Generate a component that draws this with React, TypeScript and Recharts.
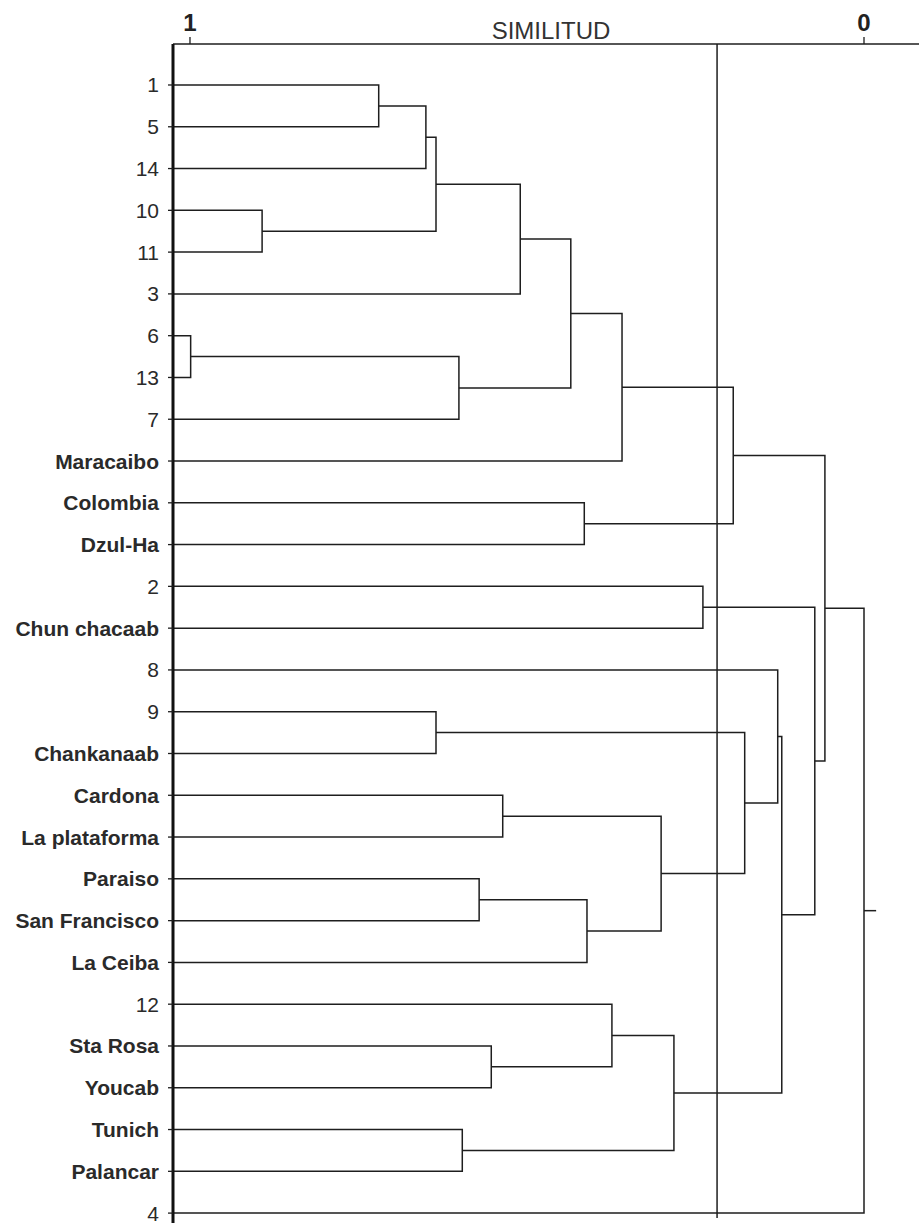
import React from 'react';
import { ComposedChart, Line, XAxis, YAxis } from 'recharts';

// Leaves, top to bottom
const leafLabels = [
  '1', '5', '14', '10', '11', '3', '6', '13', '7', 'Maracaibo', 'Colombia', 'Dzul-Ha',
  '2', 'Chun chacaab', '8', '9', 'Chankanaab', 'Cardona', 'La plataforma', 'Paraiso',
  'San Francisco', 'La Ceiba', '12', 'Sta Rosa', 'Youcab', 'Tunich', 'Palancar', '4',
];

// Merges (children < 28 are leaves; >= 28 refer to earlier merges: 28 + merge index)
const mergeLeft = [0, 28, 3, 29, 31, 6, 33, 32, 35, 10, 36, 12, 15, 17, 19, 42, 41, 40, 14, 23, 22, 25, 48, 46, 39, 38, 53];
const mergeRight = [1, 2, 4, 30, 5, 7, 8, 34, 9, 11, 37, 13, 16, 18, 20, 21, 43, 44, 45, 24, 47, 26, 49, 50, 51, 52, 27];
const mergeSimilarity = [
  0.72, 0.65, 0.893, 0.635, 0.51, 0.999, 0.601, 0.435, 0.359, 0.415, 0.194, 0.239, 0.635,
  0.536, 0.571, 0.411, 0.301, 0.177, 0.128, 0.553, 0.374, 0.596, 0.282, 0.122, 0.073, 0.058, 0.0,
];

const cutSimilarity = 0.218;
const xTicks = [1, 0];

// axis extents (layout)
const X_MIN = -0.0816;
const X_MAX = 1.0252;
const Y_MIN = -0.981;
const Y_MAX = 27.237;
const CUT_BOTTOM = 27.12;
const ROOT_STUB = -0.018;

const FONT = "'Liberation Sans', Arial, sans-serif";
const INK = '#1e1e1e';

// build branch polylines from the linkage
const pos: number[] = leafLabels.map((_, i) => i);
const hgt: number[] = leafLabels.map(() => X_MAX);
const branches = mergeSimilarity.map((s, k) => {
  const a = mergeLeft[k];
  const b = mergeRight[k];
  const pa = pos[a];
  const pb = pos[b];
  const seg = [
    { x: hgt[a], y: pa },
    { x: s, y: pa },
    { x: s, y: pb },
    { x: hgt[b], y: pb },
  ];
  pos.push((pa + pb) / 2);
  hgt.push(s);
  return seg;
});
const rootPos = pos[pos.length - 1];
const rootStub = [
  { x: mergeSimilarity[mergeSimilarity.length - 1], y: rootPos },
  { x: ROOT_STUB, y: rootPos },
];
const cutLine = [
  { x: cutSimilarity, y: Y_MIN },
  { x: cutSimilarity, y: CUT_BOTTOM },
];

const LeafTick = (props: any) => {
  const { x, y, payload } = props;
  const label = leafLabels[payload.value];
  const numeric = /^\d+$/.test(label);
  return (
    <text
      x={x}
      y={y}
      dy={7.5}
      textAnchor="end"
      fontFamily={FONT}
      fontSize={21}
      fontWeight={numeric ? 400 : 700}
      fill="#2a2a2a"
    >
      {label}
    </text>
  );
};

const TopTick = (props: any) => {
  const { x, y, payload } = props;
  return (
    <text x={x} y={y} textAnchor="middle" fontFamily={FONT} fontSize={24} fontWeight={700} fill="#222">
      {String(payload.value)}
    </text>
  );
};

export default function App() {
  const yTicks = leafLabels.map((_, i) => i);
  return (
    <div style={{ position: 'absolute', left: 0, top: 0, width: 919, height: 1223, background: '#fff' }}>
      <ComposedChart width={919} height={1223} margin={{ top: 0, right: 0, bottom: 0, left: 0 }}>
        <XAxis
          xAxisId={0}
          type="number"
          dataKey="x"
          orientation="top"
          height={44}
          domain={[X_MIN, X_MAX]}
          allowDataOverflow
          reversed
          ticks={xTicks}
          interval={0}
          tickSize={7}
          tickMargin={6}
          tick={<TopTick />}
          axisLine={{ stroke: INK, strokeWidth: 1.5 }}
          tickLine={{ stroke: INK, strokeWidth: 1.3 }}
          label={{ value: 'SIMILITUD', position: 'insideBottom', offset: 5, dx: 5, fontSize: 24, fill: '#333', fontFamily: FONT }}
        />
        <YAxis
          yAxisId={0}
          type="number"
          domain={[Y_MIN, Y_MAX]}
          allowDataOverflow
          reversed
          ticks={yTicks}
          interval={0}
          width={173}
          tickSize={5}
          tickMargin={9}
          tick={<LeafTick />}
          axisLine={{ stroke: '#111', strokeWidth: 3 }}
          tickLine={{ stroke: INK, strokeWidth: 1.3 }}
        />
        {branches.map((seg, i) => (
          <Line
            key={'b' + i}
            data={seg}
            dataKey="y"
            type="linear"
            stroke={INK}
            strokeWidth={1.5}
            dot={false}
            activeDot={false}
            isAnimationActive={false}
          />
        ))}
        <Line data={rootStub} dataKey="y" type="linear" stroke={INK} strokeWidth={1.5} dot={false} activeDot={false} isAnimationActive={false} />
        <Line data={cutLine} dataKey="y" type="linear" stroke={INK} strokeWidth={1.5} dot={false} activeDot={false} isAnimationActive={false} />
      </ComposedChart>
    </div>
  );
}
